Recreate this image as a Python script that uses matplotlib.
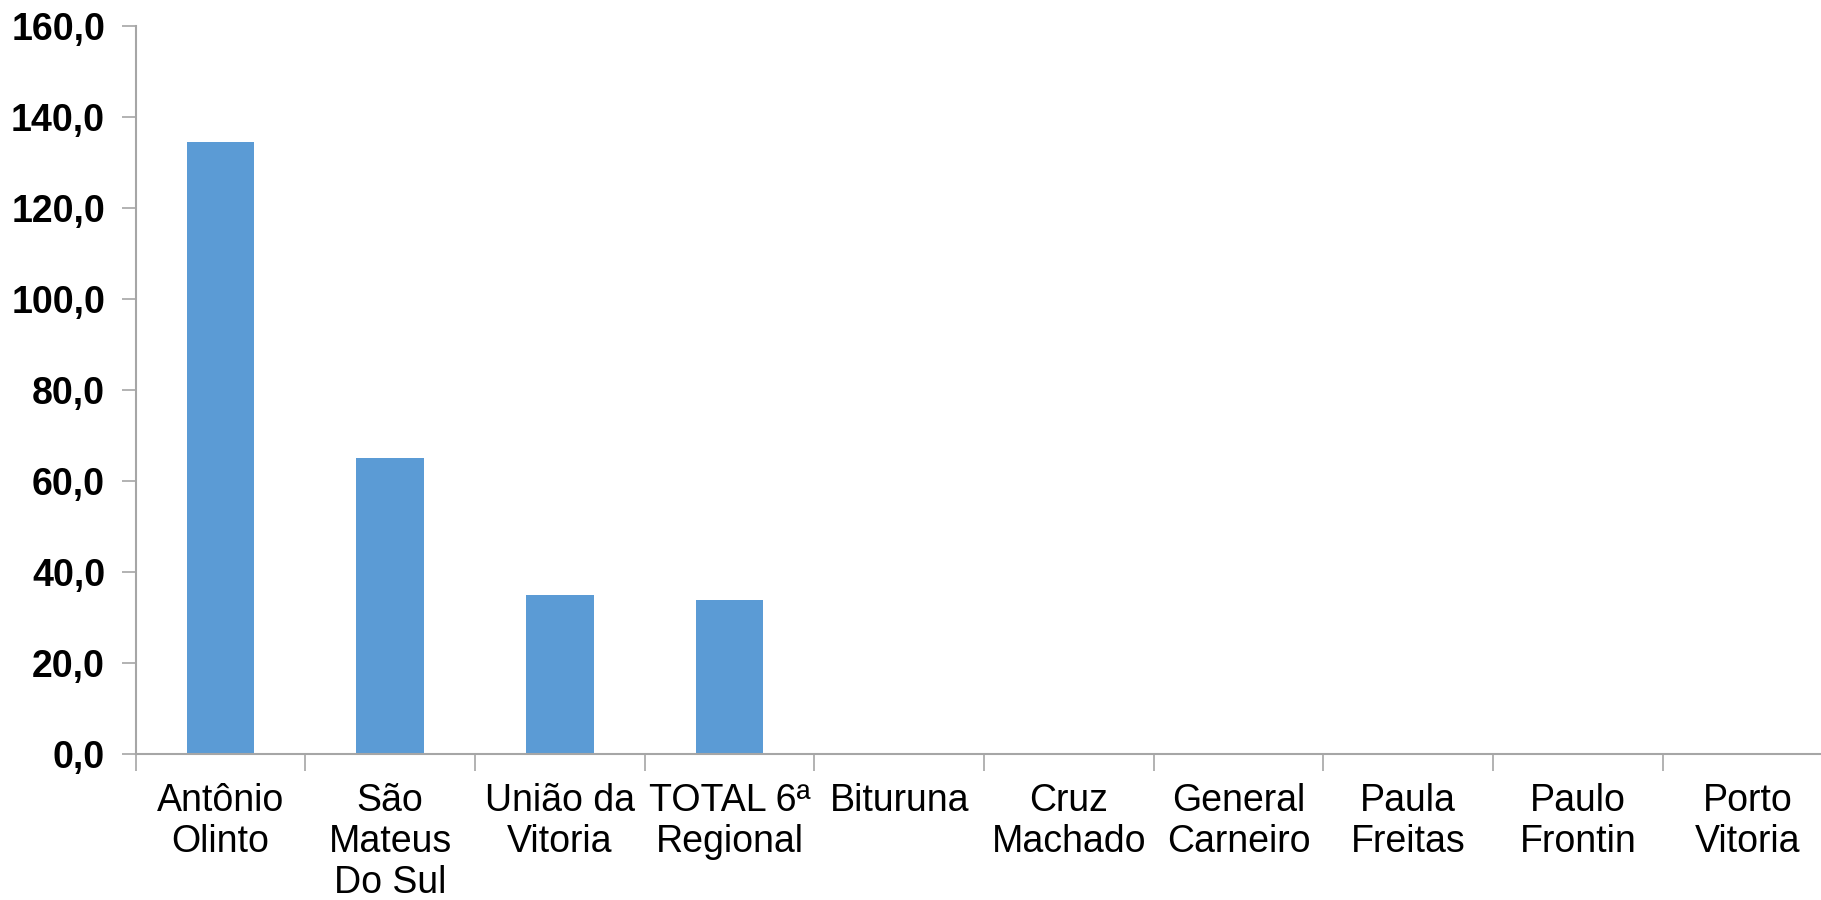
import matplotlib
matplotlib.use("Agg")
import matplotlib.pyplot as plt
from matplotlib.ticker import FixedLocator, FuncFormatter

categories = ["Antônio\nOlinto", "São\nMateus\nDo Sul", "União da\nVitoria", "TOTAL 6ª\nRegional",
              "Bituruna", "Cruz\nMachado", "General\nCarneiro", "Paula\nFreitas", "Paulo\nFrontin",
              "Porto\nVitoria"]
values = [134.4, 65.0, 34.9, 33.9, 0, 0, 0, 0, 0, 0]
yticks = [0, 20, 40, 60, 80, 100, 120, 140, 160]

plt.rcParams['font.family'] = ['Liberation Sans', 'DejaVu Sans']

fig = plt.figure(figsize=(18.21, 9.0), dpi=100)
ax = fig.add_axes([0.0745, 0.1622, 1.0063 - 0.0745, 0.8094])

x = list(range(len(categories)))
ax.bar(x, values, width=0.4, color="#5B9BD5", zorder=2)

ax.set_xlim(-0.5, len(categories) - 0.5)
ax.set_ylim(0, 160)

ax.set_yticks(yticks)
ax.yaxis.set_major_formatter(FuncFormatter(lambda v, p: f"{v:.1f}".replace(".", ",")))
for lab in ax.get_yticklabels():
    lab.set_fontweight("bold")
ax.tick_params(axis="y", labelsize=27, length=10, width=1.2, color="#A6A6A6", pad=12)

# x: ticks at category boundaries, labels at centers
ax.xaxis.set_major_locator(FixedLocator([i - 0.5 for i in range(len(categories) + 1)]))
ax.xaxis.set_major_formatter(FuncFormatter(lambda v, p: ""))
ax.xaxis.set_minor_locator(FixedLocator(x))
ax.set_xticklabels(categories, minor=True)
ax.tick_params(axis="x", which="major", length=12, width=1.2, color="#A6A6A6")
ax.tick_params(axis="x", which="minor", length=0, labelsize=27, pad=21)
for lab in ax.get_xticklabels(minor=True):
    lab.set_linespacing(1.17)
    lab.set_verticalalignment("top")
    lab.set_horizontalalignment("center")

for s in ["top", "right"]:
    ax.spines[s].set_visible(False)
for s in ["left", "bottom"]:
    ax.spines[s].set_color("#A6A6A6")
    ax.spines[s].set_linewidth(1.5)

fig.savefig("out.png", dpi=100)
